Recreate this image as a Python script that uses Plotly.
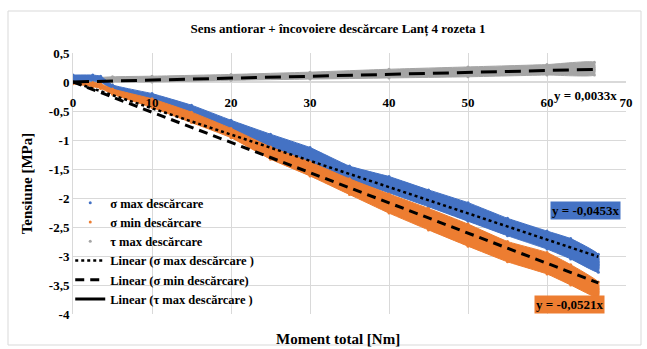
import plotly.graph_objects as go

# Moment total [Nm] sampling positions and measured stress envelopes [MPa]
sigma_x = [0, 2.5, 3.5, 5, 10, 15, 20, 25, 30, 35, 40, 45, 50, 55, 60, 63, 66.5]
sigma_max_hi = [0.12, 0.12, 0.10, -0.05, -0.20, -0.40, -0.66, -0.90, -1.13, -1.45, -1.63, -1.86, -2.08, -2.35, -2.57, -2.70, -2.97]
sigma_max_lo = [0.00, 0.02, 0.00, -0.13, -0.30, -0.54, -0.82, -1.13, -1.39, -1.68, -1.91, -2.15, -2.40, -2.65, -2.88, -3.05, -3.28]
sigma_min_hi = [0.00, -0.01, -0.03, -0.12, -0.29, -0.52, -0.80, -1.12, -1.38, -1.67, -1.93, -2.18, -2.45, -2.75, -2.94, -3.15, -3.45]
sigma_min_lo = [-0.03, -0.08, -0.11, -0.21, -0.44, -0.70, -0.96, -1.33, -1.62, -1.94, -2.26, -2.55, -2.83, -3.10, -3.31, -3.50, -3.72]

tau_x = [0, 5, 10, 20, 30, 40, 50, 60, 66]
tau_max_hi = [0.05, 0.09, 0.10, 0.13, 0.17, 0.22, 0.26, 0.30, 0.34]
tau_max_lo = [-0.02, 0.00, 0.00, 0.03, 0.05, 0.07, 0.09, 0.12, 0.12]

# Linear trend slopes (intercept forced to zero)
slope_sigma_max = -0.0453
slope_sigma_min = -0.0521
slope_tau_max = 0.0033
trend_x = [0, 66.5]

x_ticks = [0, 10, 20, 30, 40, 50, 60, 70]
y_ticks = [0.5, 0, -0.5, -1, -1.5, -2, -2.5, -3, -3.5, -4]
y_tick_text = ["0,5", "0", "-0,5", "-1", "-1,5", "-2", "-2,5", "-3", "-3,5", "-4"]

BLUE = "#4472C4"
ORANGE = "#ED7D31"
GRAY = "#A5A5A5"
FONT = "Liberation Serif"

fig = go.Figure()


def band(xs, hi, lo, color, name, rank):
    # dense point cloud drawn as a filled envelope plus its edge samples
    fig.add_trace(go.Scatter(
        x=xs + xs[::-1], y=hi + lo[::-1], fill="toself", fillcolor=color,
        mode="lines", line=dict(color=color, width=1, shape="spline", smoothing=0.4),
        showlegend=False, hoverinfo="skip"))
    fig.add_trace(go.Scatter(
        x=xs + xs, y=hi + lo, mode="markers", name=name, legendrank=rank,
        marker=dict(color=color, size=3)))


band(tau_x, tau_max_hi, tau_max_lo, GRAY, "τ max descărcare", 3)
band(sigma_x, sigma_max_hi, sigma_max_lo, BLUE, "σ max descărcare", 1)
band(sigma_x, sigma_min_hi, sigma_min_lo, ORANGE, "σ min descărcare", 2)

fig.add_trace(go.Scatter(
    x=trend_x, y=[slope_sigma_max * v for v in trend_x], mode="lines",
    name="Linear (σ max descărcare )", legendrank=4,
    line=dict(color="black", width=2.5, dash="dot")))
fig.add_trace(go.Scatter(
    x=trend_x, y=[slope_sigma_min * v for v in trend_x], mode="lines",
    name="Linear (σ min descărcare)", legendrank=5,
    line=dict(color="black", width=3, dash="9px,6px")))
fig.add_trace(go.Scatter(
    x=trend_x, y=[slope_tau_max * v for v in trend_x], mode="lines",
    showlegend=False, line=dict(color="black", width=3, dash="16px,8px")))
fig.add_trace(go.Scatter(
    x=[None], y=[None], mode="lines", name="Linear (τ max descărcare )",
    legendrank=6, line=dict(color="black", width=3)))

EQ_FONT = dict(family=FONT, size=13, color="black", weight="bold")

# trend equations
fig.add_annotation(x=64.9, y=-2.22, xref="x", yref="y",
                   text=f"y = {slope_sigma_max:.4f}x".replace(".", ","),
                   showarrow=False, bgcolor=BLUE, borderpad=1, font=EQ_FONT)
fig.add_annotation(x=62.8, y=-3.83, xref="x", yref="y",
                   text=f"y = {slope_sigma_min:.4f}x".replace(".", ","),
                   showarrow=False, bgcolor=ORANGE, borderpad=1, font=EQ_FONT)
fig.add_annotation(x=64.9, y=-0.24, xref="x", yref="y",
                   text=f"y = {slope_tau_max:.4f}x".replace(".", ","),
                   showarrow=False, font=EQ_FONT)

# axis title for the moment axis, placed at the bottom of the chart
fig.add_annotation(x=(338 - 73) / 553, y=(314 - 339) / 261, xref="paper", yref="paper",
                   yanchor="middle", text="Moment total [Nm]", showarrow=False,
                   font=dict(family=FONT, size=15, color="black", weight="bold"))

# chart border
fig.add_shape(type="rect", xref="paper", yref="paper",
              x0=(8 - 73) / 553, x1=(641 - 73) / 553,
              y0=(314 - 345) / 261, y1=(314 - 11) / 261,
              line=dict(color="#d9d9d9", width=1), layer="below")

fig.update_layout(
    width=647, height=349,
    margin=dict(l=73, r=21, t=53, b=35),
    paper_bgcolor="white", plot_bgcolor="white",
    font=dict(family=FONT, size=13, color="black"),
    title=dict(text="<b>Sens antiorar + încovoiere descărcare Lanț 4 rozeta 1</b>",
               x=338 / 647, xanchor="center", y=1 - 28 / 349, yanchor="middle",
               font=dict(family=FONT, size=13, color="black")),
    showlegend=True,
    legend=dict(x=-0.005, y=(314 - 188) / 261, xanchor="left", yanchor="top",
                bgcolor="rgba(0,0,0,0)",
                font=dict(family=FONT, size=12.5, color="black", weight="bold"),
                tracegroupgap=0, itemwidth=30),
    xaxis=dict(range=[0, 70], tickvals=x_ticks, showgrid=True, gridcolor="#d9d9d9",
               zeroline=False, showline=False, anchor="free", position=4 / 4.5,
               ticks="outside", ticklen=8, tickcolor="rgba(0,0,0,0)",
               tickfont=dict(family=FONT, size=13, color="black", weight="bold")),
    yaxis=dict(range=[-4, 0.5], tickvals=y_ticks, ticktext=y_tick_text,
               showgrid=True, gridcolor="#d9d9d9", zeroline=True, zerolinecolor="#d9d9d9",
               showline=True, linecolor="#d9d9d9", ticks="", ticklen=0,
               title=dict(text="Tensiune [MPa]", standoff=12,
                          font=dict(family=FONT, size=15, color="black", weight="bold")),
               tickfont=dict(family=FONT, size=13, color="black", weight="bold")),
)

fig.write_html("out.html")
